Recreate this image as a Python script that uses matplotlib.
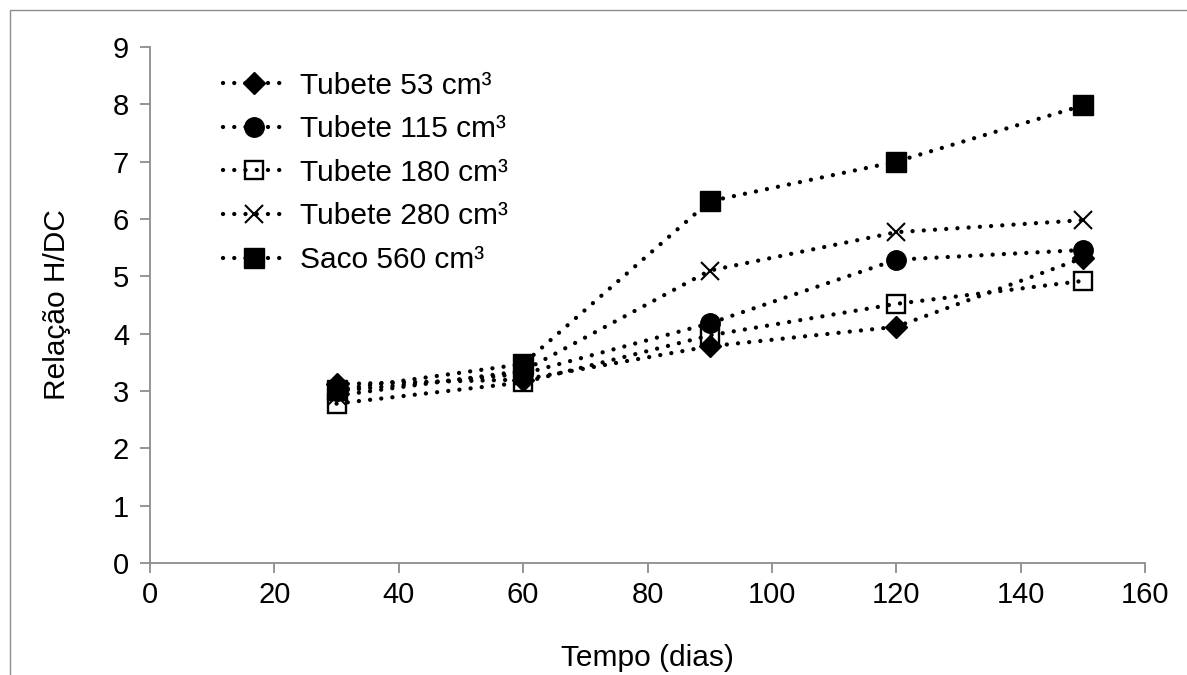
import matplotlib
matplotlib.use("Agg")
import matplotlib.pyplot as plt
from matplotlib.patches import Rectangle

plt.rcParams['font.family'] = ['Liberation Sans', 'DejaVu Sans']

dias = [30, 60, 90, 120, 150]
tubete53 = [3.12, 3.2, 3.78, 4.12, 5.32]
tubete115 = [3.0, 3.3, 4.18, 5.29, 5.46]
tubete180 = [2.78, 3.15, 3.97, 4.52, 4.92]
tubete280 = [2.92, 3.35, 5.1, 5.77, 5.98]
saco560 = [3.02, 3.47, 6.31, 7.0, 7.98]
labels = ['Tubete 53 cm³', 'Tubete 115 cm³', 'Tubete 180 cm³', 'Tubete 280 cm³', 'Saco 560 cm³']
xticks = [0, 20, 40, 60, 80, 100, 120, 140, 160]
yticks = [0, 1, 2, 3, 4, 5, 6, 7, 8, 9]

fig = plt.figure(figsize=(11.87, 6.75), dpi=100)
fig.patches.append(Rectangle((10/1187, -0.05), 1.2, 1 - 10/675 + 0.05,
                             transform=fig.transFigure, fill=False,
                             edgecolor='#8c8c8c', linewidth=1.0))
ax = fig.add_axes([150/1187, 1 - 563/675, 995/1187, (563 - 47)/675])

ls = (0, (0.01, 2.6))
common = dict(color='black', linewidth=3.1, linestyle=ls, dash_capstyle='round')
series = [
    (tubete53, dict(marker='D', markersize=11.5, markerfacecolor='black', markeredgecolor='black')),
    (tubete115, dict(marker='o', markersize=14, markerfacecolor='black', markeredgecolor='black')),
    (tubete180, dict(marker='s', markersize=13, markerfacecolor='none', markeredgecolor='black', markeredgewidth=1.7)),
    (tubete280, dict(marker='x', markersize=13.5, markeredgecolor='black', markeredgewidth=1.5)),
    (saco560, dict(marker='s', markersize=14, markerfacecolor='black', markeredgecolor='black')),
]
for (vals, mk), lab in zip(series, labels):
    ax.plot(dias, vals, label=lab, **common, **mk)

ax.set_xlim(0, 160)
ax.set_ylim(0, 9)
ax.set_xticks(xticks)
ax.set_yticks(yticks)
for s in ['top', 'right']:
    ax.spines[s].set_visible(False)
for s in ['left', 'bottom']:
    ax.spines[s].set_color('#8c8c8c')
    ax.spines[s].set_linewidth(1.3)
ax.tick_params(axis='both', colors='#8c8c8c', length=7, width=1.3, labelsize=21,
               labelcolor='black', direction='out')
ax.tick_params(axis='y', pad=8)
ax.tick_params(axis='x', pad=6)

ax.set_xlabel('Tempo (dias)', fontsize=21.5, labelpad=25)
ax.set_ylabel('Relação H/DC', fontsize=21.5, labelpad=30)

leg = ax.legend(loc='upper left', bbox_to_anchor=(0.061, 0.975), frameon=False,
                fontsize=21.5, handlelength=2.1, handletextpad=0.5, labelspacing=0.52,
                borderaxespad=0)

fig.savefig('out.png', dpi=100)
